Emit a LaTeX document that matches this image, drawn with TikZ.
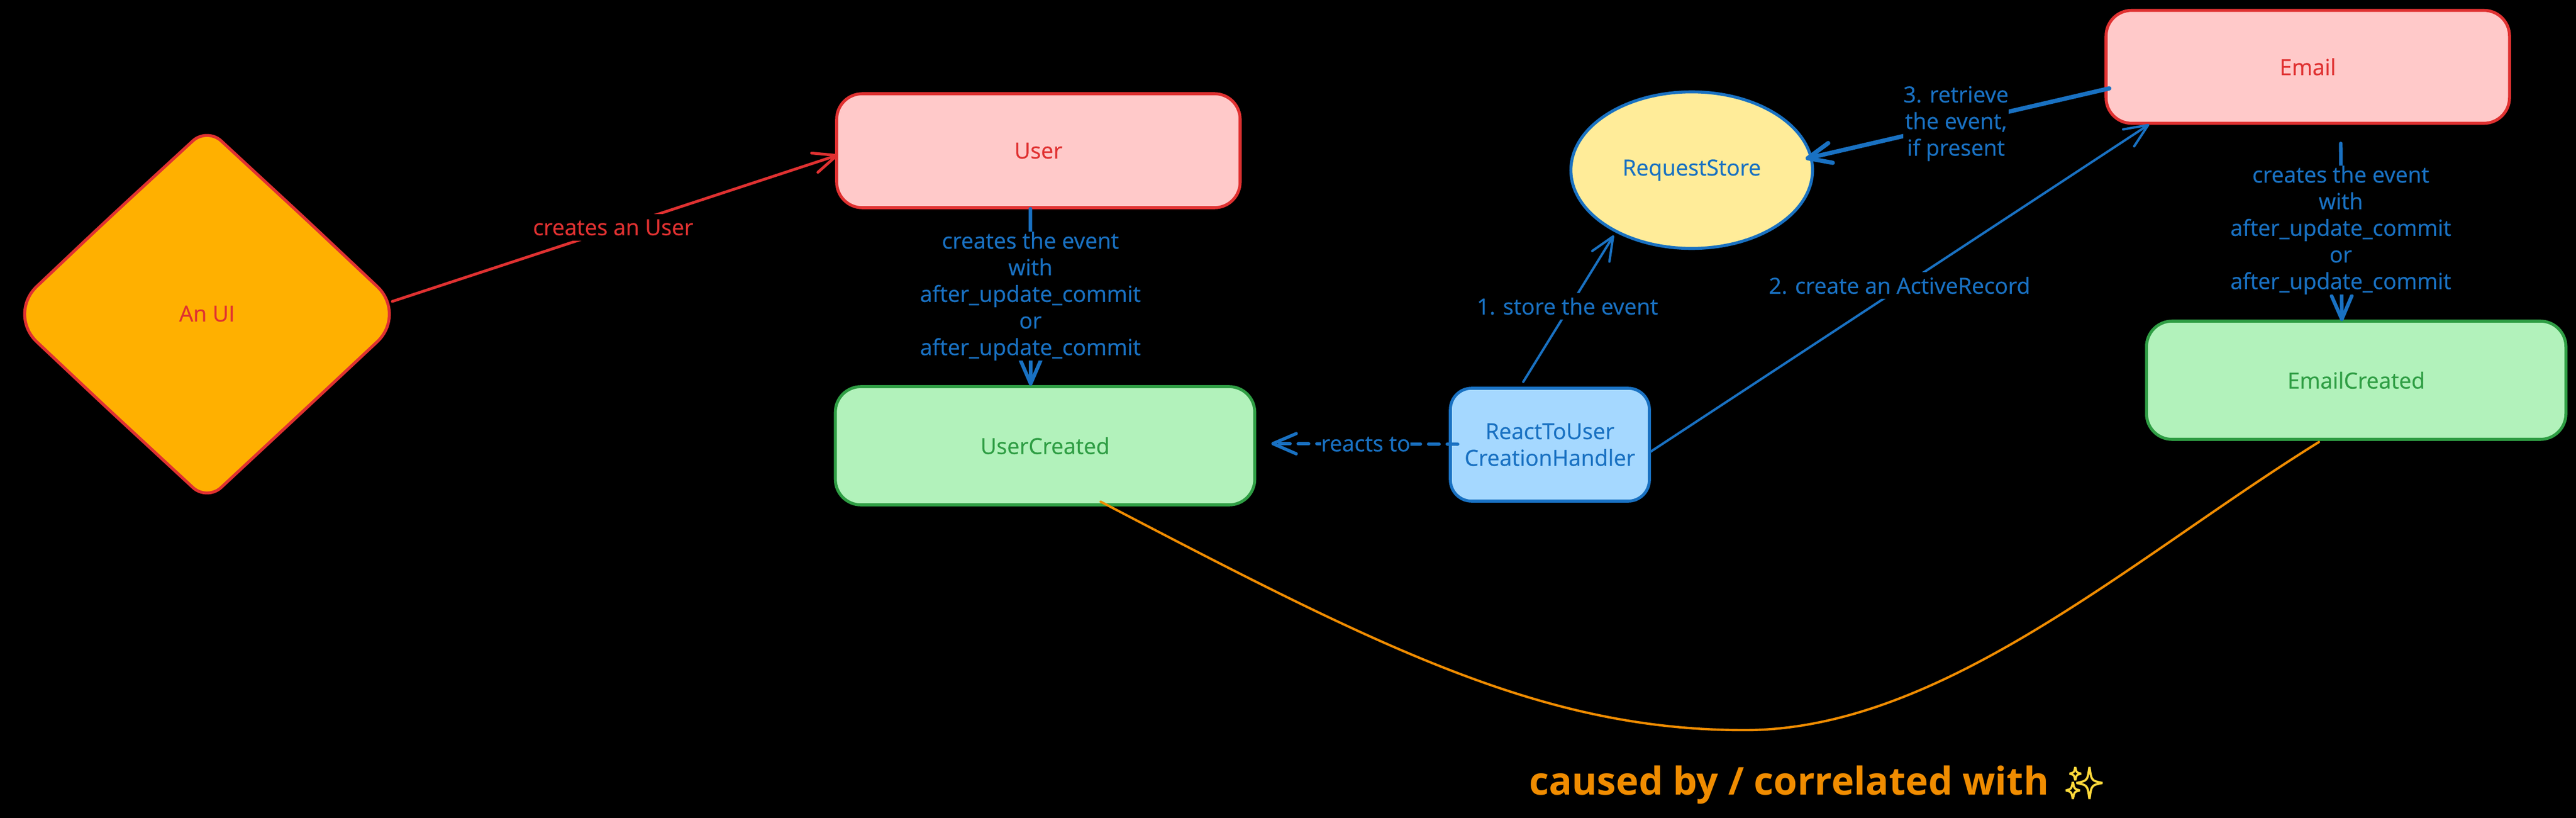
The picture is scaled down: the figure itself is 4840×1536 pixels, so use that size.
\documentclass[tikz,border=0pt]{standalone}
\usepackage{fontspec}
\setmainfont{Open Sans}[FakeBold=0.6]
\newfontfamily\sparkfont{Noto Emoji}[FakeBold=3]
\newfontfamily\capfont{Open Sans}
\usetikzlibrary{shapes.geometric,arrows.meta}
\definecolor{cred}{HTML}{E03131}
\definecolor{cpink}{HTML}{FFC9C9}
\definecolor{cgreen}{HTML}{2F9E44}
\definecolor{clgreen}{HTML}{B2F2BB}
\definecolor{cblue}{HTML}{1971C2}
\definecolor{clblue}{HTML}{A5D8FF}
\definecolor{cyellow}{HTML}{FFEC99}
\definecolor{cfill}{HTML}{FFB000}
\definecolor{corange}{HTML}{F08C00}
\definecolor{cspark}{HTML}{FFD93B}
\tikzset{
  x=0.5pt,y=-0.5pt,
  every node/.style={inner sep=0pt,outer sep=0pt,align=center,font=\fontsize{20.8}{25}\selectfont},
  boxshape/.style={draw,rectangle,rounded corners=24pt,line width=2.8pt},
  redbox/.style={boxshape,draw=cred,fill=cpink,text=cred},
  greenbox/.style={boxshape,draw=cgreen,fill=clgreen,text=cgreen},
  bluebox/.style={boxshape,draw=cblue,fill=clblue,text=cblue},
  conn/.style={line cap=round,-{Straight Barb[length=22pt,width=19pt,round]}},
  blueconn/.style={conn,draw=cblue},
  redconn/.style={conn,draw=cred},
  bluelabel/.style={fill=black,text=cblue},
  redlabel/.style={fill=black,text=cred},
}
\begin{document}
\begin{tikzpicture}
\useasboundingbox (0,0) rectangle (4840,1536);
\fill[black] (0,0) rectangle (4840,1536);

% diamond
\draw[cred,fill=cfill,line width=2.8pt,line join=round]
  (201,413) [rounded corners=18pt] -- (389,240) -- (576,413)
  [rounded corners=38pt] -- (764,590) -- (576,766)
  [rounded corners=18pt] -- (389,940) -- (201,766)
  [rounded corners=38pt] -- (14,590) -- cycle;
\node[text=cred] (ui) at (389,589) {An UI};

% boxes
\node[redbox,minimum width=379pt,minimum height=107pt] (user) at (1951,283) {User};
\node[greenbox,minimum width=394pt,minimum height=111pt] (userc) at (1963.5,837) {UserCreated};
\node[bluebox,minimum width=187pt,minimum height=106pt,rounded corners=20pt] (hnd) at (2912,835) {ReactToUser\\CreationHandler};
\node[draw=cblue,fill=cyellow,text=cblue,ellipse,line width=2.8pt,minimum width=227pt,minimum height=147pt] (store) at (3178.5,319.5) {RequestStore};
\node[redbox,minimum width=379pt,minimum height=106pt] (email) at (4336,125.5) {Email};
\node[greenbox,minimum width=394pt,minimum height=111pt] (emailc) at (4427,714) {EmailCreated};

% connectors
\draw[redconn,line width=2.6pt] ([shift={(348,-23)}]ui.center) -- ([shift={(3,8)}]user.west);
\draw[blueconn,line width=3.4pt] ([shift={(-15,2)}]user.south) -- ([shift={(-27,-2)}]userc.north);
\draw[blueconn,line width=3.4pt] ([shift={(62,38)}]email.south) -- ([shift={(-27,0)}]emailc.north);
\draw[blueconn,line width=3pt,dash pattern=on 10pt off 7.5pt] ([shift={(14,-1)}]hnd.west) -- ([shift={(31,-4)}]userc.east);
\draw[blueconn,line width=2.2pt] ([shift={(-50,-12)}]hnd.north) -- ([shift={(-146.5,122.5)}]store.center);
\draw[blueconn,line width=2.2pt] ([shift={(1,14)}]hnd.east) -- ([shift={(-298,2)}]email.south);
\draw[blueconn,line width=4pt] ([shift={(6,40.5)}]email.west) -- ([shift={(-13,-21.5)}]store.east);
\draw[corange,line width=2.2pt,line cap=round]
  ([shift={(104.5,-6)}]userc.south) .. controls (2600,1220) and (2900,1371) .. (3278,1371)
  .. controls (3650,1371) and (4007,1047) .. ([shift={(-70,5)}]emailc.south);

% labels
\node[redlabel,minimum height=25pt] (l1) at (1152,427) {creates an User};
\node[bluelabel] (l2) at (1936,556) {creates the event\\with\\after\_update\_commit\\or\\after\_update\_commit};
\node[bluelabel] (l3) at (4398,432) {creates the event\\with\\after\_update\_commit\\or\\after\_update\_commit};
\node[bluelabel] (l4) at (2566,834) {reacts to};
\node[bluelabel,minimum height=25pt] (l5) at (2945,575) {1. store the event};
\node[bluelabel,minimum height=25pt] (l6) at (3569,536) {2. create an ActiveRecord};
\node[bluelabel] (l7) at (3675,232) {3. retrieve\\the event,\\if present};

% caption
\node[anchor=base west,text=corange,font=\fontsize{36}{40}\capfont\bfseries] (cap) at (2873,1492) {caused by / correlated with};
\node[anchor=base west,text=cspark,font=\fontsize{29}{40}\sparkfont] (spark) at (3879,1490) {✨};
\end{tikzpicture}
\end{document}
